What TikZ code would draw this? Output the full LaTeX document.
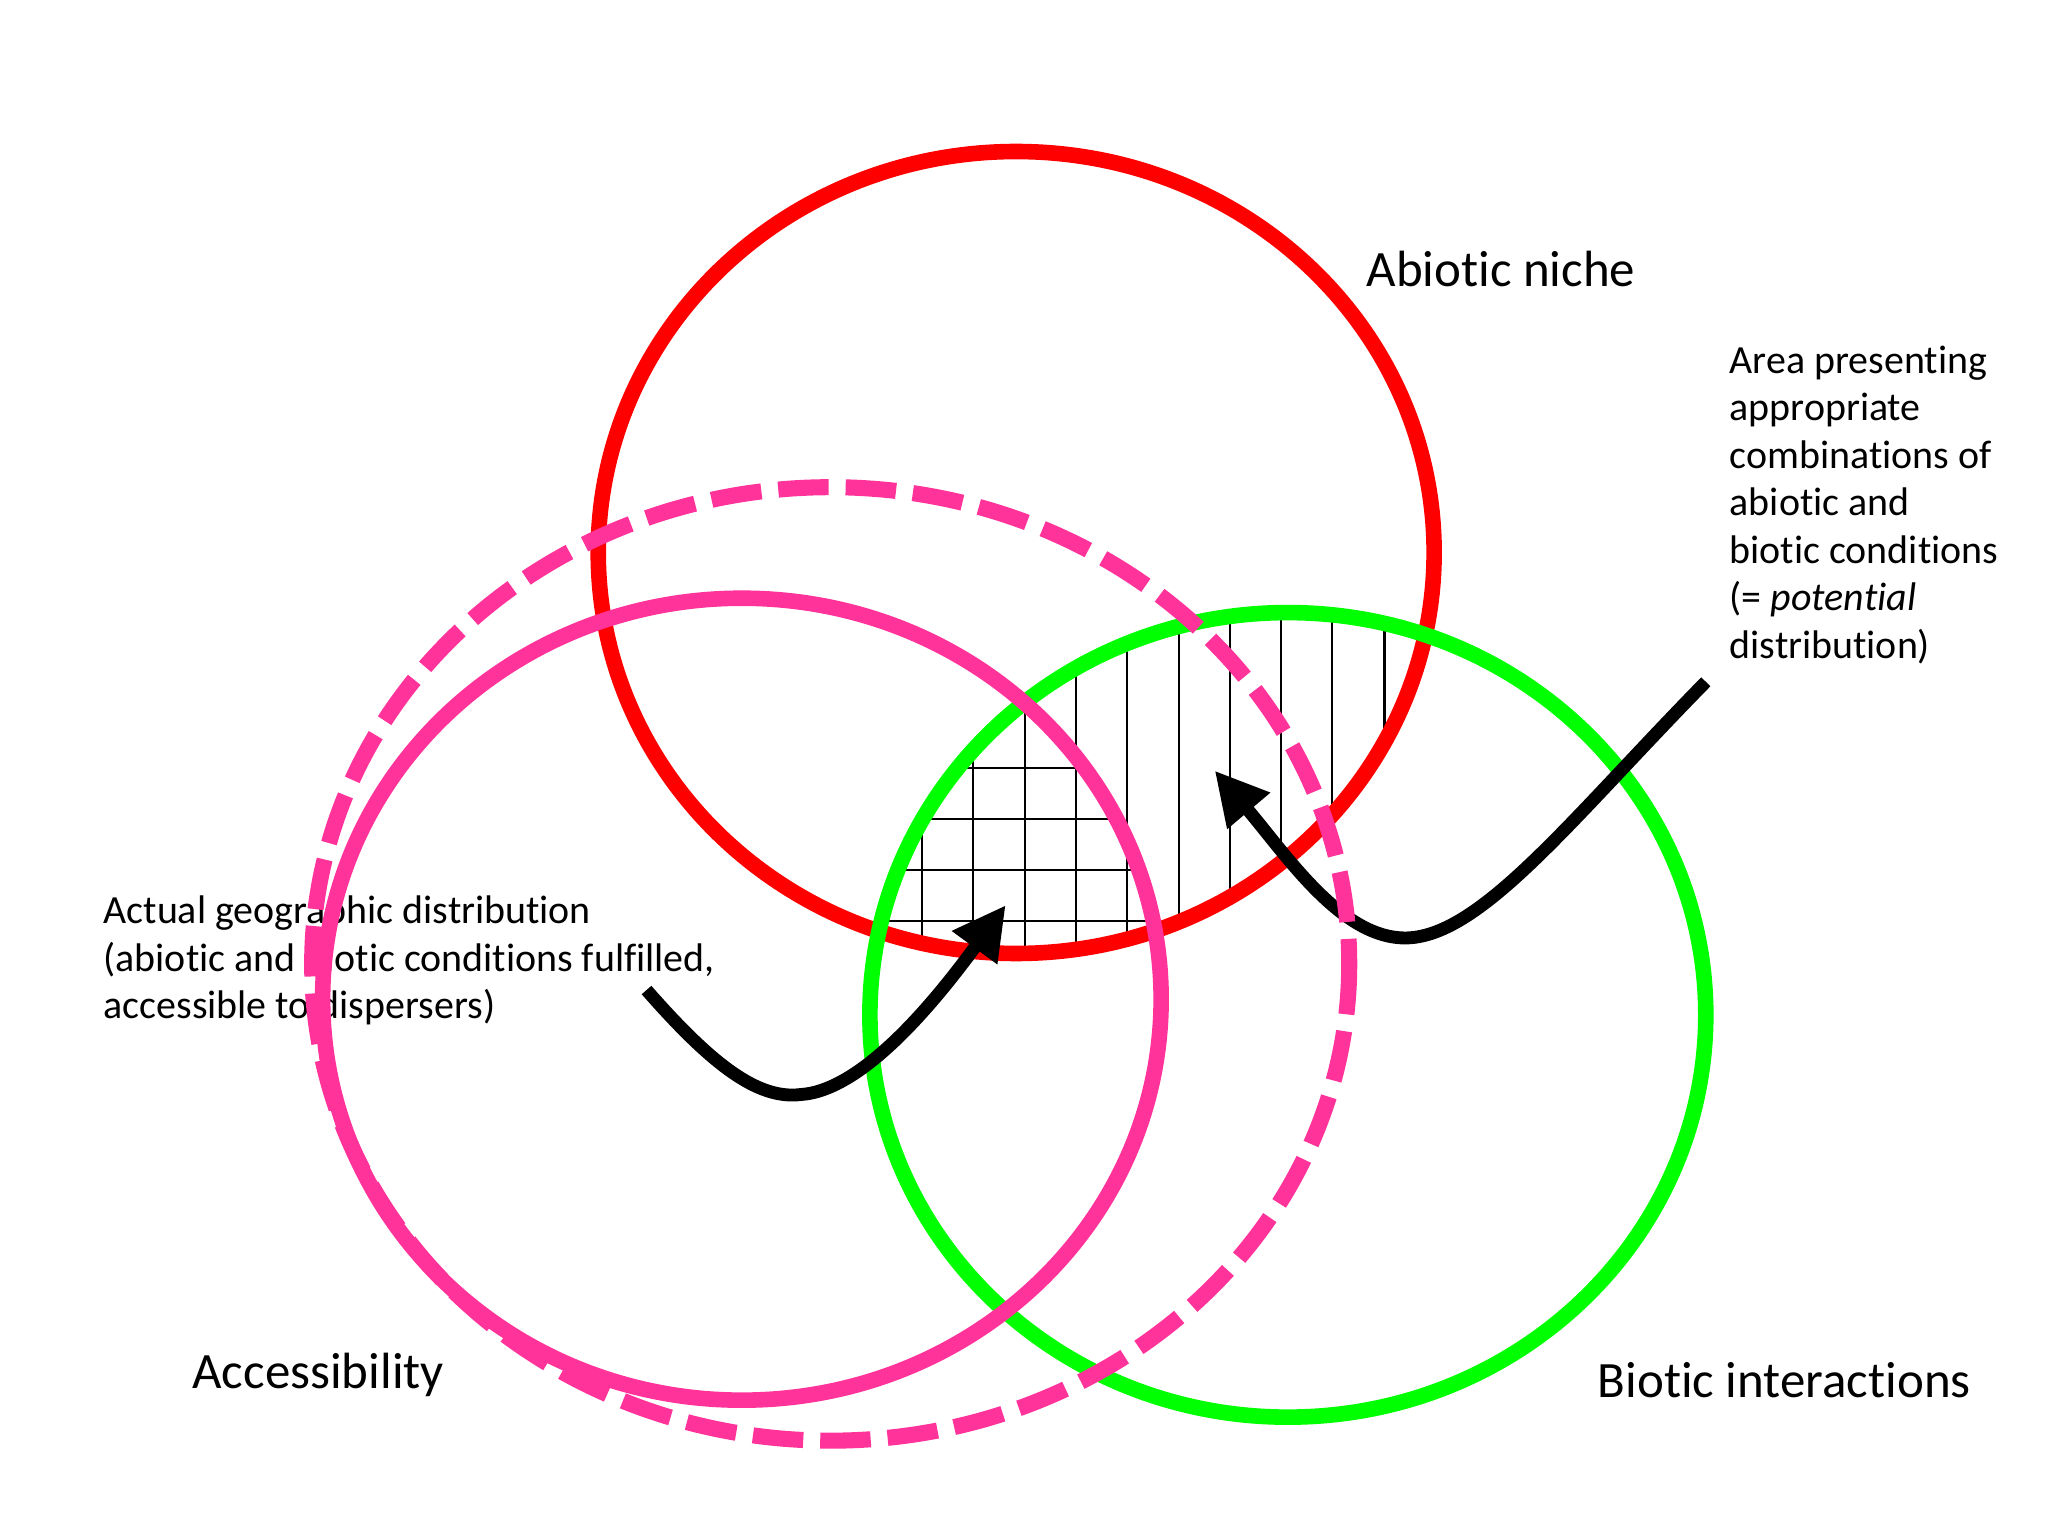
\documentclass[tikz,border=0pt]{standalone}
\usepackage{fontspec}
\setmainfont{Carlito}[Ligatures=NoCommon]
\usetikzlibrary{arrows.meta}
\definecolor{hotpink}{HTML}{FF3399}
\definecolor{brightgreen}{HTML}{00FF00}
\definecolor{purered}{HTML}{FF0000}
\begin{document}
\begin{tikzpicture}[x=0.02cm,y=-0.02cm,
  ring/.style={line width=6.8pt},
  dashring/.style={line width=7pt, dash pattern=on 22pt off 7.4pt},
  hatchline/.style={line width=0.9pt, black},
  pointer/.style={line width=5.6pt, black, -{Triangle[length=23pt,width=23pt]}},
  smalltext/.style={font=\fontsize{17.4}{20.7}\selectfont, align=left, inner sep=0pt, anchor=base west},
  bigtext/.style={font=\fontsize{22.2}{26}\selectfont, inner sep=0pt, anchor=base west}]
\fill[white] (0,0) rectangle (1568,1176);
\useasboundingbox (0,0) rectangle (1568,1176);

% texts (behind the rings)
\node[bigtext] (abiotic) at (1046,219) {Abiotic niche};
\node[smalltext] (area) at (1324,504) {Area presenting\\appropriate\\combinations of\\abiotic and\\biotic conditions\\(= \textit{potential}\\distribution)};
\node[smalltext] (actual) at (79,780) {Actual geographic distribution\\(abiotic and biotic conditions fulfilled,\\accessible to dispersers)};
\node[bigtext] (access) at (147,1063) {Accessibility};
\node[bigtext] (biotic) at (1223,1070) {Biotic interactions};

% hatching
\begin{scope}
  \clip (778,423) ellipse [x radius=320, y radius=307];
  \clip (986,777) ellipse [x radius=320, y radius=308];
  \foreach \xx in {706,745,785,824,863,903,942,981,1020,1060}
    \draw[hatchline] (\xx,430) -- (\xx,800);
  \begin{scope}
    \clip (568,765) ellipse [x radius=321, y radius=307];
    \foreach \yy in {588,627,666,705}
      \draw[hatchline] (600,\yy) -- (950,\yy);
  \end{scope}
\end{scope}

% rings
\draw[ring, purered] (778,423) ellipse [x radius=320, y radius=307];
\draw[ring, brightgreen] (986,777) ellipse [x radius=320, y radius=308];

% arrows
\coordinate (s1) at (495,758);
\coordinate (m1) at (613,838);
\coordinate (t1) at (770,693);
\draw[pointer] (s1) .. controls (545,815) and (580,842) .. (m1)
  .. controls (660,835) and (715,768) .. (t1);
\coordinate (s2) at (1306,522);
\coordinate (m2) at (1072,718);
\coordinate (t2) at (930,590);
\draw[pointer] (s2) .. controls (1200,630) and (1130,722) .. (m2)
  .. controls (1025,715) and (985,655) .. (t2);

\draw[ring, hotpink] (568,765) ellipse [x radius=321, y radius=307];
\draw[dashring, hotpink] (636,738) ellipse [x radius=397, y radius=365];
\end{tikzpicture}
\end{document}
